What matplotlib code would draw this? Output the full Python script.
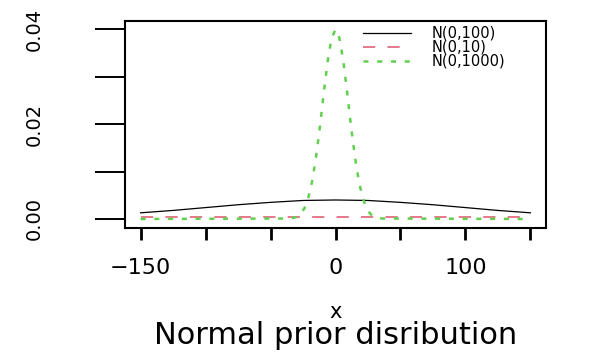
import matplotlib
matplotlib.use("Agg")
import matplotlib.pyplot as plt

# values
x_n100 = [-150, -125, -100, -75, -50, -25, 0, 25, 50, 75, 100, 125, 150]
y_n100 = [0.0013, 0.0018, 0.0024, 0.0030, 0.0035, 0.0039, 0.0040,
          0.0039, 0.0035, 0.0030, 0.0024, 0.0018, 0.0013]

x_n10 = [-150, 0, 150]
y_n10 = [0.0004, 0.0004, 0.0004]

x_n1000 = [-150, -36, -33, -30, -27, -24, -21, -18, -15, -12, -9, -6, -3, 0,
           3, 6, 9, 12, 15, 18, 21, 24, 27, 30, 33, 36, 150]
y_n1000 = [0.0, 0.0001, 0.0002, 0.0004, 0.0010, 0.0022, 0.0044, 0.0079,
           0.0130, 0.0194, 0.0266, 0.0333, 0.0381, 0.0399, 0.0381, 0.0333,
           0.0266, 0.0194, 0.0130, 0.0079, 0.0044, 0.0022, 0.0010, 0.0004,
           0.0002, 0.0001, 0.0]

labels = ["N(0,100)", "N(0,10)", "N(0,1000)"]
x_ticks = [-150, -100, -50, 0, 50, 100, 150]
x_tick_labels = ["\u2212150", "", "", "0", "", "100", ""]
y_ticks = [0.0, 0.01, 0.02, 0.03, 0.04]
y_tick_labels = ["0.00", "", "0.02", "", "0.04"]

RED = "#DF536B"
GREEN = "#61D04F"

W, H = 603, 352
fig = plt.figure(figsize=(W / 100, H / 100), dpi=100)
ax = fig.add_axes([125 / W, 1 - 228 / H, (546 - 125) / W, (228 - 21) / H])

ax.plot(x_n100, y_n100, color="black", lw=0.9, label=labels[0])
ax.plot(x_n10, y_n10, color=RED, lw=1.1, dashes=(8, 8), label=labels[1])
ax.plot(x_n1000, y_n1000, color=GREEN, lw=1.8, dashes=(2, 3.5),
        label=labels[2])

ax.set_xlim(-162, 162)
ax.set_ylim(-0.0019, 0.0417)

ax.set_xticks(x_ticks, labels=x_tick_labels, fontsize=16)
ax.set_yticks(y_ticks, labels=y_tick_labels, fontsize=14, rotation=90,
              va="center")
ax.tick_params(axis="x", length=8.6, width=2.0, pad=13)
ax.tick_params(axis="y", length=21.6, width=1.4, pad=37)

for sp in ax.spines.values():
    sp.set_linewidth(1.5)

ax.legend(loc="upper left", bbox_to_anchor=(363 / W, 1 - 26 / H),
          bbox_transform=fig.transFigure, frameon=False, fontsize=10.5,
          handlelength=3.3, handletextpad=1.4, labelspacing=-0.08,
          borderpad=0, borderaxespad=0)

fig.text(336 / W, 1 - 318 / H, "x", ha="center", va="baseline", fontsize=15)
fig.text(336 / W, 1 - 344 / H, "Normal prior disribution", ha="center",
         va="baseline", fontsize=22)

fig.savefig("out.png", dpi=100)
